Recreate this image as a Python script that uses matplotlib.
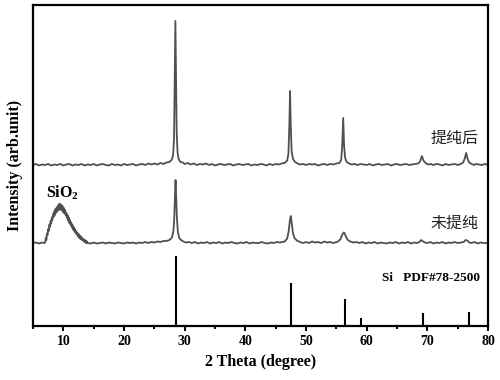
import matplotlib.pyplot as plt

plt.rcParams['font.family'] = ['Liberation Serif', 'Noto Sans CJK SC']
plt.rcParams['mathtext.fontset'] = 'custom'
plt.rcParams['mathtext.bf'] = 'Liberation Serif:bold'
plt.rcParams['mathtext.rm'] = 'Liberation Serif:bold'

# purified sample (offset trace, arb. units)
pure_x = [5.0, 5.5, 6.0, 6.5, 7.0, 7.5, 8.0, 8.5, 9.0, 9.5, 10.0, 10.5, 11.0, 11.5,
          12.0, 12.5, 13.0, 13.5, 14.0, 14.5, 15.0, 15.5, 16.0, 16.5, 17.0, 17.5,
          18.0, 18.5, 19.0, 19.5, 20.0, 20.5, 21.0, 21.5, 22.0, 22.5, 23.0, 23.5,
          24.0, 24.5, 25.0, 25.5, 26.0, 26.5, 27.0, 27.5, 27.9, 28.1, 28.25, 28.35,
          28.47, 28.58, 28.68, 28.82, 29.0, 29.3, 29.7, 30.0, 30.5, 31.0, 31.5, 32.0,
          32.5, 33.0, 33.5, 34.0, 34.5, 35.0, 35.5, 36.0, 36.5, 37.0, 37.5, 38.0,
          38.5, 39.0, 39.5, 40.0, 40.5, 41.0, 41.5, 42.0, 42.5, 43.0, 43.5, 44.0,
          44.5, 45.0, 45.5, 46.0, 46.5, 46.9, 47.1, 47.25, 47.37, 47.5, 47.63, 47.85,
          48.2, 48.6, 49.0, 49.5, 50.0, 50.5, 51.0, 51.5, 52.0, 52.5, 53.0, 53.5,
          54.0, 54.5, 55.0, 55.5, 55.8, 55.97, 56.13, 56.28, 56.45, 56.7, 57.1, 57.5,
          58.0, 58.5, 59.0, 59.5, 60.0, 60.5, 61.0, 61.5, 62.0, 62.5, 63.0, 63.5,
          64.0, 64.5, 65.0, 65.5, 66.0, 66.5, 67.0, 67.5, 68.0, 68.5, 68.8, 69.1,
          69.4, 69.8, 70.2, 70.6, 71.0, 71.5, 72.0, 72.5, 73.0, 73.5, 74.0, 74.5,
          75.0, 75.5, 75.9, 76.15, 76.4, 76.65, 76.9, 77.3, 77.7, 78.0, 78.5, 79.0,
          79.5, 80.0]
pure_y = [161, 162, 160.5, 161.5, 161, 162, 160.5, 161.5, 161, 162, 160.5, 161.5, 162, 160.5,
          161.5, 161, 162, 160.5, 161.5, 161, 162, 160.5, 161.5, 162, 161, 160.5,
          162, 161, 161.5, 160.5, 162, 161, 161.5, 162, 160.5, 161.5, 162, 161,
          162.5, 161.5, 162.5, 161.5, 163, 162, 163.5, 164, 166.5, 171, 188, 245,
          305, 250, 195, 174, 167, 164, 163.5, 162, 163, 161.5, 162.5, 161,
          162, 161.5, 162.5, 161, 162, 160.5, 161.5, 162, 161, 161.5, 162, 160.5,
          161.5, 162, 161, 161.5, 162, 160.5, 161.5, 161, 162, 161.5, 160.5, 162,
          161, 162, 161.5, 162.5, 163, 165.5, 172, 200, 235, 198, 175, 167,
          164, 162.5, 161.5, 162, 161, 162, 161.5, 162, 160.5, 161.5, 162, 161,
          162, 161.5, 162.5, 163, 166, 180, 208, 180, 168, 164, 162.5, 161.5,
          162, 161, 162, 161.5, 161, 162, 160.5, 161.5, 162, 161, 161.5, 162,
          160.5, 161.5, 162, 161, 161.5, 162, 161, 161.5, 162, 162.5, 164.5, 170,
          165, 162.5, 161.5, 162, 161, 162, 161.5, 160.5, 162, 161, 161.5, 162,
          161, 162, 163.5, 167, 173, 167, 163.5, 162, 161, 162, 161.5, 161,
          162, 161]

# raw sample (lower trace) with the amorphous SiO2 hump
raw_x = [5.0, 5.5, 6.0, 6.5, 6.9,
         7.0, 7.1, 7.2, 7.3, 7.4, 7.5, 7.6, 7.7, 7.8, 7.9, 8.0, 8.1, 8.2, 8.3, 8.4,
         8.5, 8.6, 8.7, 8.8, 8.9, 9.0, 9.1, 9.2, 9.3, 9.4, 9.5, 9.6, 9.7, 9.8, 9.9,
         10.0, 10.1, 10.2, 10.3, 10.4, 10.5, 10.6, 10.7, 10.8, 10.9, 11.0, 11.1, 11.2,
         11.3, 11.4, 11.5, 11.6, 11.7, 11.8, 11.9, 12.0, 12.1, 12.2, 12.3, 12.4, 12.5,
         12.6, 12.7, 12.8, 12.9, 13.0, 13.1, 13.2, 13.3, 13.4, 13.5, 13.6, 13.7, 13.8,
         13.9, 14.0, 14.5, 15.0, 15.5, 16.0, 16.5, 17.0, 17.5, 18.0, 18.5, 19.0, 19.5,
         20.0, 20.5, 21.0, 21.5, 22.0, 22.5, 23.0, 23.5, 24.0, 24.5, 25.0, 25.5, 26.0,
         26.5, 27.0, 27.5, 27.9, 28.15, 28.3, 28.4, 28.5, 28.6, 28.72, 28.88, 29.1,
         29.4, 29.8, 30.2, 30.7, 31.2, 31.7, 32.2, 32.7, 33.2, 33.7, 34.2, 34.7, 35.2,
         35.7, 36.2, 36.7, 37.2, 37.7, 38.2, 38.7, 39.2, 39.7, 40.2, 40.7, 41.2, 41.7,
         42.2, 42.7, 43.2, 43.7, 44.2, 44.7, 45.2, 45.7, 46.1, 46.5, 46.9, 47.15, 47.35,
         47.5, 47.65, 47.85, 48.1, 48.5, 49.0, 49.5, 50.0, 50.5, 51.0, 51.5, 52.0, 52.5,
         53.0, 53.5, 54.0, 54.5, 55.0, 55.3, 55.7, 55.95, 56.2, 56.35, 56.6, 56.9, 57.3,
         57.8, 58.3, 58.8, 59.3, 59.8, 60.3, 60.8, 61.3, 61.8, 62.3, 62.8, 63.3, 63.8,
         64.3, 64.8, 65.3, 65.8, 66.3, 66.8, 67.3, 67.8, 68.3, 68.7, 69.0, 69.2, 69.6,
         70.0, 70.5, 71.0, 71.5, 72.0, 72.5, 73.0, 73.5, 74.0, 74.5, 75.0, 75.5, 76.0,
         76.3, 76.6, 76.9, 77.3, 77.8, 78.3, 78.8, 79.3, 80.0]
raw_y = [83, 83.5, 82.5, 83.5, 83,
         83.5, 88, 86, 92.5, 91, 97, 95, 101.5, 99, 105, 102.5, 108.5, 106, 112, 109,
         114.5, 111, 117, 113, 118.5, 114.5, 120.5, 116, 122, 116.5, 122, 116, 121, 115.5, 119.5,
         113.5, 118, 112.5, 116, 110.5, 113, 108, 111, 105.5, 108.5, 103, 106, 101,
         103.5, 98.5, 101.5, 96.5, 99, 95, 97, 93, 95, 91.5, 93.5, 89.5, 92,
         88.5, 90.5, 87, 89.5, 86.5, 88, 85.5, 87, 84.5, 86, 83.5, 85.5, 83,
         84.5, 83, 82.5, 83.5, 82.5, 83, 83.5, 82.5, 83.5, 83, 82.5, 83.5, 83,
         82.5, 83.5, 83, 83.5, 82.5, 83.5, 83, 84, 83, 84, 83.5, 84.5, 84,
         85, 85, 86, 88.5, 95, 110, 130, 146, 130, 108, 94, 88,
         86, 84.5, 83.5, 84, 83, 84, 82.5, 83.5, 83, 84, 82.5, 83.5, 83,
         84, 82.5, 83.5, 83, 84, 83, 82.5, 83.5, 83, 84, 82.5, 83.5, 83,
         83, 84, 83, 82.5, 83.5, 83, 84, 83.5, 84, 84.5, 87.5, 95, 106,
         110, 103, 93, 88, 85.5, 84, 83, 84, 83, 84.5, 83.5, 84, 83,
         84.5, 83.5, 84, 83, 84, 84.5, 87, 91, 93.5, 93, 89, 86, 84.5,
         83.5, 84, 83, 84, 82.5, 83.5, 83, 84, 82.5, 83.5, 83, 82.5, 83.5,
         83, 84, 82.5, 83.5, 83, 84, 82.5, 83.5, 83, 84, 86, 85, 83.5,
         83, 84, 82.5, 83.5, 83, 84, 82.5, 83.5, 83, 84, 83, 83.5, 84,
         86, 85.5, 83.5, 83, 84, 82.5, 83.5, 83, 83]

# Si reference pattern PDF#78-2500
ref_pos = [28.5, 47.5, 56.4, 59.0, 69.3, 76.8]
ref_int = [70, 43, 27, 8.3, 12.7, 14]

fig = plt.figure(figsize=(5, 3.8), dpi=100)
ax = fig.add_axes([0.066, 0.142, 0.91, 0.845])

ax.plot(pure_x, pure_y, color='#505050', lw=1.3)
ax.plot(raw_x, raw_y, color='#505050', lw=1.3)
ax.vlines(ref_pos, 0, ref_int, color='black', lw=1.5)

ax.text(78.5, 188, '提纯后', ha='right', va='center', fontsize=11.5,
        family=['Noto Sans CJK SC', 'DejaVu Sans'], color='#222222')
ax.text(78.5, 103, '未提纯', ha='right', va='center', fontsize=11.5,
        family=['Noto Sans CJK SC', 'DejaVu Sans'], color='#222222')
ax.text(9.85, 133, r'$\mathbf{SiO_2}$', ha='center', va='center', fontsize=11.5)
ax.text(78.6, 48, 'Si   PDF#78-2500', ha='right', va='center', fontsize=9.5,
        fontweight='bold')

ax.set_xlim(5, 80)
ax.set_ylim(0, 321)
ax.set_xticks([10, 20, 30, 40, 50, 60, 70, 80])
ax.set_xticks([5, 15, 25, 35, 45, 55, 65, 75], minor=True)
ax.set_yticks([])
ax.tick_params(axis='x', which='major', direction='out', length=3.5, width=1.4,
               labelsize=10, pad=3)
ax.tick_params(axis='x', which='minor', direction='out', length=2.5, width=1.4)
for lab in ax.get_xticklabels():
    lab.set_fontweight('bold')
for s in ax.spines.values():
    s.set_linewidth(1.6)

ax.set_xlabel('2 Theta (degree)', fontsize=11.5, fontweight='bold', labelpad=4)
ax.set_ylabel('Intensity (arb.unit)', fontsize=11.5, fontweight='bold', labelpad=7)

fig.savefig('out.png', dpi=100)
